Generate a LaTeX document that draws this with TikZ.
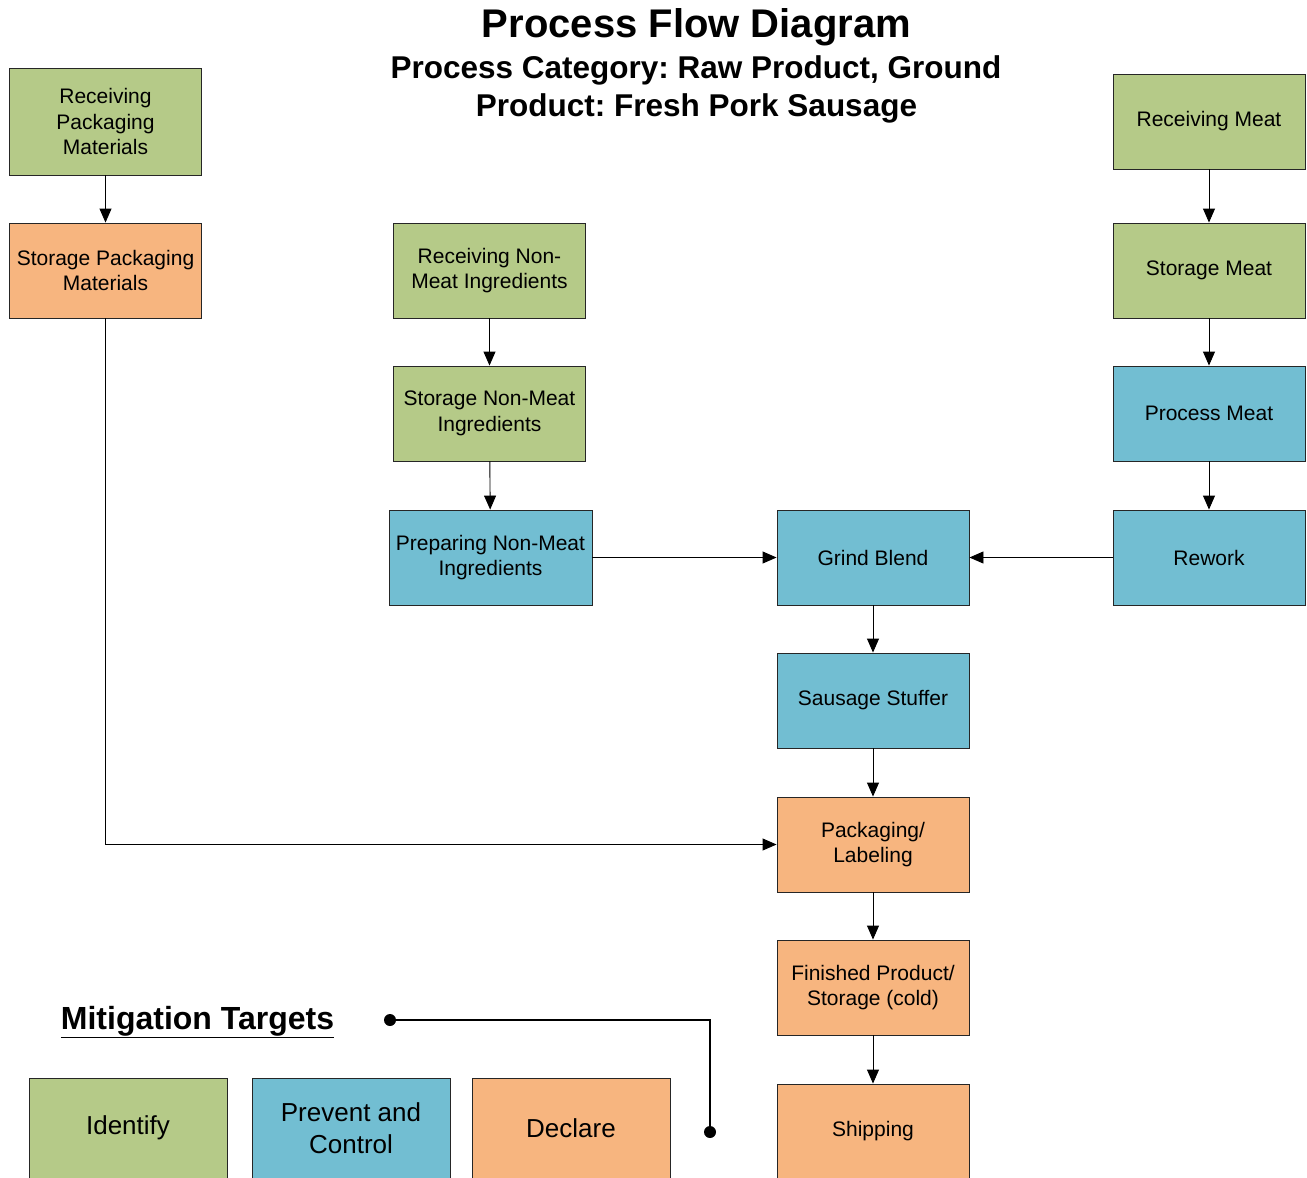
\documentclass[tikz,border=0pt]{standalone}
\usepackage{fontspec}
\setmainfont{Liberation Sans}
\usetikzlibrary{arrows.meta}
\definecolor{idgreen}{RGB}{181,202,136}
\definecolor{pcblue}{RGB}{114,190,210}
\definecolor{dcorange}{RGB}{247,181,127}
\frenchspacing

\begin{document}
\begin{tikzpicture}[x=1pt, y=-1pt,
  stepbox/.style={draw=black!85, line width=0.9pt, minimum width=192pt, minimum height=95pt,
    inner sep=2pt, align=center, font=\fontsize{21}{25.5}\selectfont},
  ident/.style={stepbox, fill=idgreen},
  prevent/.style={stepbox, fill=pcblue},
  declare/.style={stepbox, fill=dcorange},
  legbox/.style={draw=black!85, line width=0.9pt, minimum width=198pt, minimum height=100pt,
    inner sep=2pt, align=center, font=\fontsize{26}{32}\selectfont},
  flow/.style={-{Triangle[length=14pt,width=12pt]}, line width=0.9pt}]
  \useasboundingbox (0,0) rectangle (1307,1178);

  % titles
  \node[font=\bfseries\fontsize{40}{48}\selectfont] (title) at (696.5,27) {Process Flow Diagram};
  \node[font=\bfseries\fontsize{31.5}{38}\selectfont] (subcat) at (696,70) {Process Category: Raw Product, Ground};
  \node[font=\bfseries\fontsize{31.5}{38}\selectfont] (subprod) at (696.5,108) {Product: Fresh Pork Sausage};

  % packaging materials
  \node[ident, minimum height=107pt] (rcvpkg) at (105.5,121.5) {Receiving\\Packaging\\Materials};
  \node[declare] (stpkg) at (105.5,270.5) {Storage Packaging\\Materials};

  % non-meat ingredients
  \node[ident] (rcvnm) at (489.5,270.5) {Receiving Non-\\Meat Ingredients};
  \node[ident] (stnm) at (489.5,413.5) {Storage Non-Meat\\Ingredients};
  \node[prevent, minimum width=203pt] (prepnm) at (490.5,557.5) {Preparing Non-Meat\\Ingredients};

  % meat
  \node[ident] (rcvmeat) at (1209,121.5) {Receiving Meat};
  \node[ident] (stmeat) at (1209,270.5) {Storage Meat};
  \node[prevent] (procmeat) at (1209,413.5) {Process Meat};
  \node[prevent] (rework) at (1209,557.5) {Rework};

  % main line
  \node[prevent] (grind) at (873,557.5) {Grind Blend};
  \node[prevent] (stuffer) at (873,700.5) {Sausage Stuffer};
  \node[declare] (pack) at (873,844.5) {Packaging/\\Labeling};
  \node[declare] (finished) at (873,987.5) {Finished Product/\\Storage (cold)};
  \node[declare] (ship) at (873,1131.5) {Shipping};

  % flows
  \draw[flow] (rcvpkg) -- (stpkg);
  \draw[flow] (stpkg.south) |- (pack.west);
  \draw[flow] (rcvnm) -- (stnm);
  \draw[flow] (stnm) -- (prepnm);
  \draw[flow] (prepnm) -- (grind);
  \draw[flow] (rcvmeat) -- (stmeat);
  \draw[flow] (stmeat) -- (procmeat);
  \draw[flow] (procmeat) -- (rework);
  \draw[flow] (rework) -- (grind);
  \draw[flow] (grind) -- (stuffer);
  \draw[flow] (stuffer) -- (pack);
  \draw[flow] (pack) -- (finished);
  \draw[flow] (finished) -- (ship);

  % legend
  \node[font=\bfseries\fontsize{32}{38}\selectfont] (legtitle) at (197.5,1022) {\underline{Mitigation Targets}};
  \node[legbox, fill=idgreen] (legid) at (128,1128) {Identify};
  \node[legbox, fill=pcblue] (legpc) at (351,1128) {Prevent and\\Control};
  \node[legbox, fill=dcorange] (legdc) at (571,1128) {Declare};
  \coordinate (legdotA) at (390,1020);
  \coordinate (legdotB) at (710,1132);
  \draw[line width=1.2pt] (legdotA) -| (legdotB);
  \fill (legdotA) circle (6pt);
  \fill (legdotB) circle (6pt);
\end{tikzpicture}
\end{document}
